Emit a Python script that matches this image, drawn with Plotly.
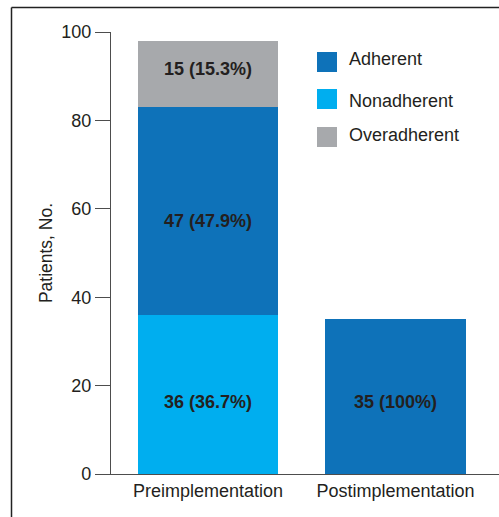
import plotly.graph_objects as go

categories = ["Preimplementation", "Postimplementation"]
series_names = ["Adherent", "Nonadherent", "Overadherent"]
nonadherent = [36, 0]
adherent = [47, 35]
overadherent = [15, 0]
nonadherent_pct = [36.7, None]
adherent_pct = [47.9, 100]
overadherent_pct = [15.3, None]
y_ticks = [0, 20, 40, 60, 80, 100]

colors = {"Adherent": "#0E72B9", "Nonadherent": "#00AEEF", "Overadherent": "#A7A9AC"}
text_color = "#231F20"
axis_color = "#4D4D4D"
FONT = "Liberation Sans, Arial, Helvetica, sans-serif"

W, H = 499, 517
L, R, T, B = 111, 0, 32, 43
pw, ph = W - L - R, H - T - B

def px_x(x):
    return (x - L) / pw

def px_y(y):
    return (H - B - y) / ph

fig = go.Figure()
stack = [("Nonadherent", nonadherent, nonadherent_pct, -8),
         ("Adherent", adherent, adherent_pct, -10),
         ("Overadherent", overadherent, overadherent_pct, 5)]
for name, vals, _, _ in stack:
    fig.add_trace(go.Bar(x=categories, y=vals, name=name, marker=dict(color=colors[name], line=dict(width=0)),
                         showlegend=False, hoverinfo="skip"))

# labels at segment centres, computed from the data
base = [0, 0]
annotations = []
for name, vals, pcts, ys in stack:
    for i, (v, p) in enumerate(zip(vals, pcts)):
        if v and p is not None:
            pct_txt = f"{p:g}" if p != int(p) else f"{int(p)}"
            annotations.append(dict(x=categories[i], y=base[i] + v / 2, xref="x", yref="y",
                                    text=f"<b>{v} ({pct_txt}%)</b>", showarrow=False,
                                    yshift=ys if (name != "Adherent" or i == 0) else -5,
                                    font=dict(family=FONT, size=18, color=text_color)))
        base[i] += v

# manual legend
shapes = []
legend_rows = [62, 99, 137]
legend_text_rows = [59, 101, 135]
for name, cy, ty in zip(series_names, legend_rows, legend_text_rows):
    shapes.append(dict(type="rect", xref="paper", yref="paper",
                       x0=px_x(317), x1=px_x(337), y0=px_y(cy + 10), y1=px_y(cy - 10),
                       fillcolor=colors[name], line=dict(width=0)))
    annotations.append(dict(xref="paper", yref="paper", x=px_x(347), y=px_y(ty),
                            xanchor="left", yanchor="middle", text=name, showarrow=False,
                            font=dict(family=FONT, size=18, color=text_color)))

# outer frame (left and top edges)
frame = dict(color="#222222", width=1.5)
shapes.append(dict(type="line", xref="paper", yref="paper", x0=px_x(11.5), x1=px_x(11.5),
                   y0=px_y(517), y1=px_y(7.5), line=frame))
shapes.append(dict(type="line", xref="paper", yref="paper", x0=px_x(11.5), x1=px_x(499),
                   y0=px_y(7.5), y1=px_y(7.5), line=frame))

fig.update_layout(
    width=W, height=H,
    margin=dict(l=L, r=R, t=T, b=B),
    barmode="stack", bargap=0.2533,
    plot_bgcolor="white", paper_bgcolor="white",
    font=dict(family=FONT, size=18, color=text_color),
    shapes=shapes, annotations=annotations,
    xaxis=dict(range=[-0.517, 1.552], showline=True, linecolor=axis_color, linewidth=1.2,
               ticks="", showgrid=False, zeroline=False, tickfont=dict(size=18, color=text_color)),
    yaxis=dict(range=[0, 100], tickvals=y_ticks, showline=True, linecolor=axis_color, linewidth=1.2,
               ticks="outside", ticklen=15, tickcolor=axis_color, tickwidth=1.2,
               showgrid=False, zeroline=False, tickfont=dict(size=18, color=text_color),
               title=dict(text="Patients, No.", font=dict(size=17.5, color=text_color), standoff=4)),
)

fig.write_html("out.html", config={"displayModeBar": False},
               post_script="document.body.style.margin='0';document.body.style.padding='0';")
